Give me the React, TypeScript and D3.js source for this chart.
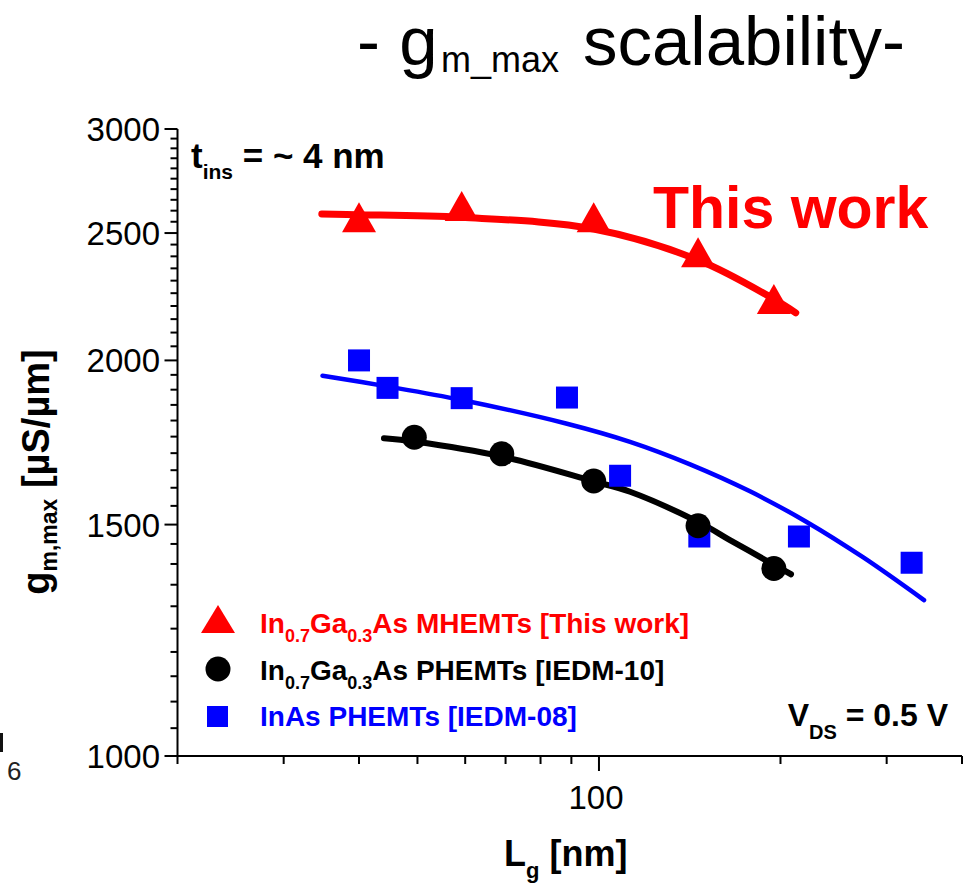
import React from "react";
import * as d3 from "d3";

// ---- data ----
const redX = [40, 59.2, 98, 146, 195];
const redY = [2570, 2621, 2570, 2417, 2227];
const blackX = [49.4, 69, 98, 146, 195];
const blackY = [1748, 1698, 1619, 1497, 1389];
const blueX = [40, 44.6, 59.2, 88.5, 108.4, 146.7, 214.6, 330];
const blueY = [2000, 1906, 1872, 1874, 1634, 1469, 1469, 1403];

const redFitX = [34.7, 39.6, 59.2, 98, 146, 195, 212];
const redFitY = [2585, 2582, 2570, 2518, 2385, 2227, 2174];
const blackFitX = [44.0, 49.4, 69, 98, 112.6, 146, 164.9, 195, 208.2];
const blackFitY = [1745, 1735, 1690, 1618, 1589, 1507, 1460, 1398, 1375];
const blueFitX = [34.8, 44.5, 59.2, 88.5, 112.6, 141.6, 178, 221, 274.4, 346];
const blueFitY = [1947, 1911, 1866, 1790, 1734, 1667, 1590, 1507, 1416, 1314];

const xMinorTicks = [20, 30, 40, 50, 60, 70, 80, 90, 200, 300, 400];
const xMajorTicks = [100];
const xTickLabels = ["100"];
const yMajorTicks = [1000, 1500, 2000, 2500, 3000];
const yTickLabels = ["1000", "1500", "2000", "2500", "3000"];
const yMinorStep = 50;

const FONT = "'Liberation Sans', Arial, Helvetica, sans-serif";
const RED = "#ff0000";
const BLUE = "#0000ff";

export default function App() {
  const W = 965, H = 886;
  const x = d3.scaleLog().domain([20, 400]).range([177.5, 962]);
  const y = d3.scaleLog().domain([1000, 3000]).range([756, 129]);

  const yMinor = d3.range(1000, 3001, yMinorStep).filter((v) => !yMajorTicks.includes(v));

  const line = d3
    .line<[number, number]>()
    .x((d) => x(d[0]))
    .y((d) => y(d[1]))
    .curve(d3.curveCatmullRom.alpha(0.5));

  const zip = (a: number[], b: number[]) => a.map((v, i) => [v, b[i]] as [number, number]);

  const tri = (cx: number, cy: number, w = 34, h = 30) =>
    `M${cx - w / 2},${cy + h / 2}L${cx},${cy - h / 2}L${cx + w / 2},${cy + h / 2}Z`;

  const x0 = x.range()[0];
  const y0 = y.range()[0];

  return (
    <svg
      width={W}
      height={H}
      viewBox={`0 0 ${W} ${H}`}
      style={{ position: "absolute", left: 0, top: 0, background: "#fff" }}
      fontFamily={FONT}
    >
      <rect x={0} y={0} width={W} height={H} fill="#fff" />

      {/* title */}
      <text x={357} y={65} fontSize={69} fill="#000">- g</text>
      <text x={441} y={72} fontSize={36} fill="#000">m_max</text>
      <text x={583} y={65} fontSize={69} fill="#000">scalability-</text>

      {/* stray fragment at left edge */}
      <rect x={0} y={733} width={3} height={19} fill="#111" />
      <text x={7} y={780} fontSize={26} fill="#222">6</text>

      {/* axes */}
      <line x1={x0} y1={y.range()[1]} x2={x0} y2={y0 + 1} stroke="#000" strokeWidth={2} />
      <line x1={x0 - 1} y1={y0} x2={x.range()[1]} y2={y0} stroke="#000" strokeWidth={2} />

      {/* y ticks */}
      {yMinor.map((v) => (
        <line key={"ym" + v} x1={x0} x2={x0 - 7} y1={y(v)} y2={y(v)} stroke="#000" strokeWidth={2} />
      ))}
      {yMajorTicks.map((v, i) => (
        <g key={"yM" + v}>
          <line x1={x0} x2={x0 - 13} y1={y(v)} y2={y(v)} stroke="#000" strokeWidth={2} />
          <text x={160} y={y(v) + 12} fontSize={33} textAnchor="end" fill="#000">
            {yTickLabels[i]}
          </text>
        </g>
      ))}

      {/* x ticks */}
      {xMinorTicks.map((v) => (
        <line key={"xm" + v} x1={x(v)} x2={x(v)} y1={y0} y2={y0 + 8} stroke="#000" strokeWidth={2} />
      ))}
      {xMajorTicks.map((v, i) => (
        <g key={"xM" + v}>
          <line x1={x(v)} x2={x(v)} y1={y0} y2={y0 + 15} stroke="#000" strokeWidth={2} />
          <text x={x(v) - 3} y={809} fontSize={33} textAnchor="middle" fill="#000">
            {xTickLabels[i]}
          </text>
        </g>
      ))}

      {/* axis titles */}
      <text x={504} y={866} fontSize={36} fontWeight="bold" fill="#000">
        L<tspan fontSize={22} dy={12}>g</tspan>
        <tspan dy={-12}> [nm]</tspan>
      </text>
      <text
        transform="translate(49,472) rotate(-90)"
        textAnchor="middle"
        fontSize={38}
        fontWeight="bold"
        fill="#000"
      >
        g<tspan fontSize={23} dy={8}>m,max</tspan>
        <tspan dy={-8}> [µS/µm]</tspan>
      </text>

      {/* fit curves */}
      <path d={line(zip(blueFitX, blueFitY)) || ""} fill="none" stroke={BLUE} strokeWidth={4.5} strokeLinecap="round" />
      <path d={line(zip(blackFitX, blackFitY)) || ""} fill="none" stroke="#000" strokeWidth={6} strokeLinecap="round" />
      <path d={line(zip(redFitX, redFitY)) || ""} fill="none" stroke={RED} strokeWidth={7} strokeLinecap="round" />

      {/* markers */}
      {blueX.map((v, i) => (
        <rect key={"b" + i} x={x(v) - 11} y={y(blueY[i]) - 11} width={22} height={22} fill={BLUE} />
      ))}
      {blackX.map((v, i) => (
        <circle key={"k" + i} cx={x(v)} cy={y(blackY[i])} r={12.5} fill="#000" />
      ))}
      {redX.map((v, i) => (
        <path key={"r" + i} d={tri(x(v), y(redY[i]))} fill={RED} />
      ))}

      {/* annotations */}
      <text x={191} y={168} fontSize={35} fontWeight="bold" fill="#000">
        t<tspan fontSize={21} dy={11}>ins</tspan>
        <tspan dy={-11}> = ~ 4 nm</tspan>
      </text>
      <text x={653} y={228} fontSize={59} fontWeight="bold" fill={RED}>This work</text>
      <text x={948} y={726} fontSize={32} fontWeight="bold" fill="#000" textAnchor="end">
        V<tspan fontSize={20} dy={13}>DS</tspan>
        <tspan dy={-13}> = 0.5 V</tspan>
      </text>

      {/* legend */}
      <path d={tri(218, 619, 34, 28)} fill={RED} />
      <text x={260} y={633} fontSize={28} fontWeight="bold" fill={RED}>
        In<tspan fontSize={18} dy={9}>0.7</tspan>
        <tspan dy={-9}>Ga</tspan>
        <tspan fontSize={18} dy={9}>0.3</tspan>
        <tspan dy={-9}>As MHEMTs [This work]</tspan>
      </text>
      <circle cx={218} cy={669} r={12.5} fill="#000" />
      <text x={260} y={680} fontSize={28} fontWeight="bold" fill="#000">
        In<tspan fontSize={18} dy={9}>0.7</tspan>
        <tspan dy={-9}>Ga</tspan>
        <tspan fontSize={18} dy={9}>0.3</tspan>
        <tspan dy={-9}>As PHEMTs [IEDM-10]</tspan>
      </text>
      <rect x={207} y={706} width={21} height={21} fill={BLUE} />
      <text x={260} y={726} fontSize={28} fontWeight="bold" fill={BLUE}>
        InAs PHEMTs [IEDM-08]
      </text>
    </svg>
  );
}
